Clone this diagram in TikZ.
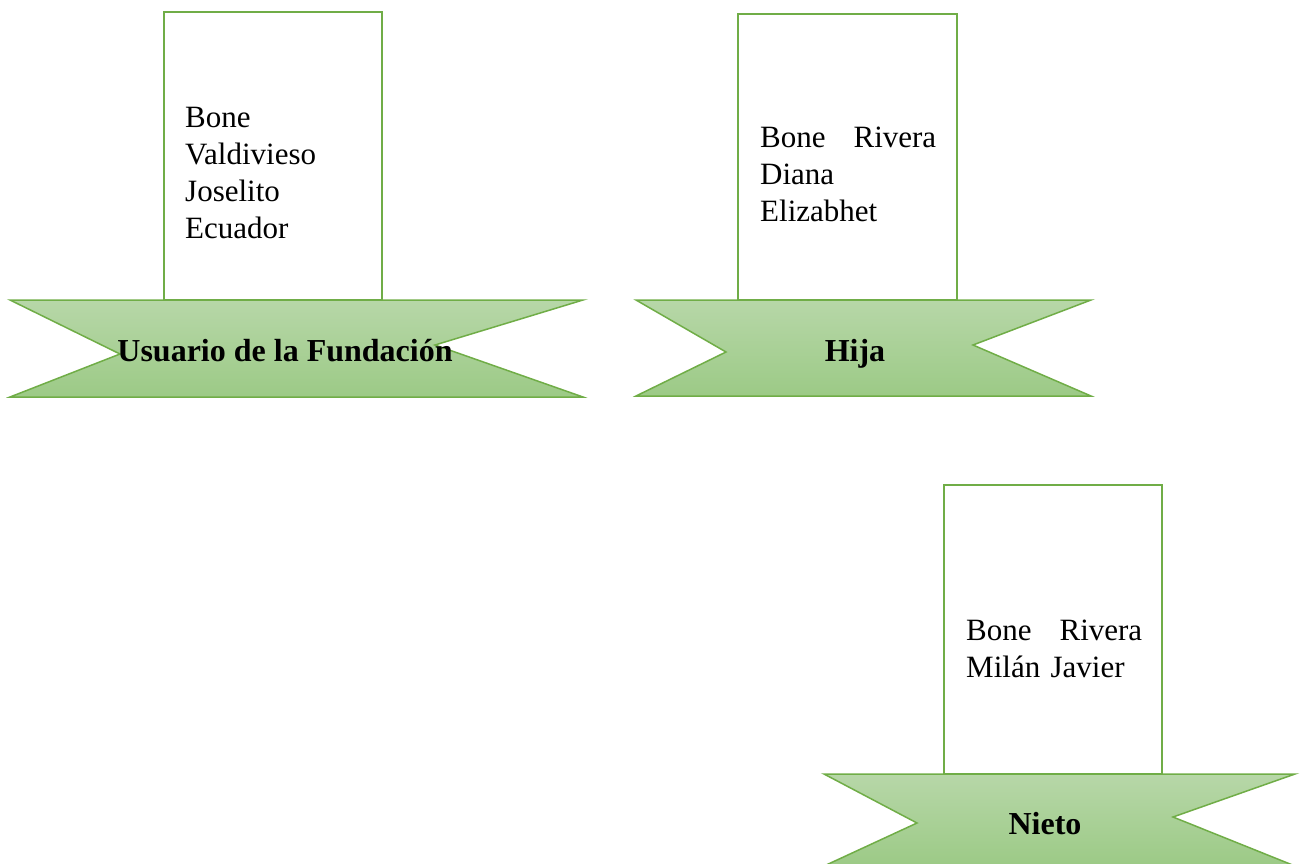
\documentclass[tikz,border=0pt]{standalone}
\usepackage{fontspec}
\setmainfont{Liberation Serif}
\definecolor{RibbonLine}{RGB}{112,173,71}
\definecolor{RibbonTop}{RGB}{183,215,168}
\definecolor{RibbonBottom}{RGB}{156,202,134}
\tikzset{
    ribbon/.style={
        draw=RibbonLine, line width=1.5pt, line join=miter,
        top color=RibbonTop, bottom color=RibbonBottom
    },
    name box/.style={draw=RibbonLine, line width=2.6pt, fill=white},
    name text/.style={
        anchor=base west, inner sep=0pt, text width=176pt,
        font=\fontsize{31}{37}\selectfont
    },
    title text/.style={
        anchor=base, inner sep=0pt,
        font=\fontsize{32}{38}\selectfont\bfseries
    }
}
\newcommand{\spreadline}[2]{\hbox to 176pt{#1\hfill #2}}

\begin{document}
\begin{tikzpicture}[x=1pt, y=-1pt]

\useasboundingbox (0,0) rectangle (1304,863);

% Usuario de la Fundacion
\draw[name box] (164,12) rectangle (382,300);
\node[name text] (usuario) at (185,127) {Bone\\Valdivieso\\Joselito\\Ecuador};
\draw[ribbon] (10,300) -- (583,300) -- (435,345) -- (583,397)
    -- (10,397) -- (120,354) -- cycle;
\node[title text] (usuarioTitle) at (285,361) {Usuario de la Fundación};

% Hija
\draw[name box] (738,14) rectangle (957,300);
\node[name text] (hija) at (760,147) {\spreadline{Bone}{Rivera}\\Diana\\Elizabhet};
\draw[ribbon] (636,300) -- (1091,300) -- (973,345) -- (1091,396)
    -- (636,396) -- (726,352) -- cycle;
\node[title text] (hijaTitle) at (855,361) {Hija};

% Nieto
\draw[name box] (944,485) rectangle (1162,774);
\node[name text] (nieto) at (966,640) {\spreadline{Bone}{Rivera}\\Milán Javier};
\draw[ribbon] (824,774) -- (1295,774) -- (1173,817) -- (1295,866)
    -- (824,866) -- (917,823) -- cycle;
\node[title text] (nietoTitle) at (1045,834) {Nieto};

\end{tikzpicture}
\end{document}
